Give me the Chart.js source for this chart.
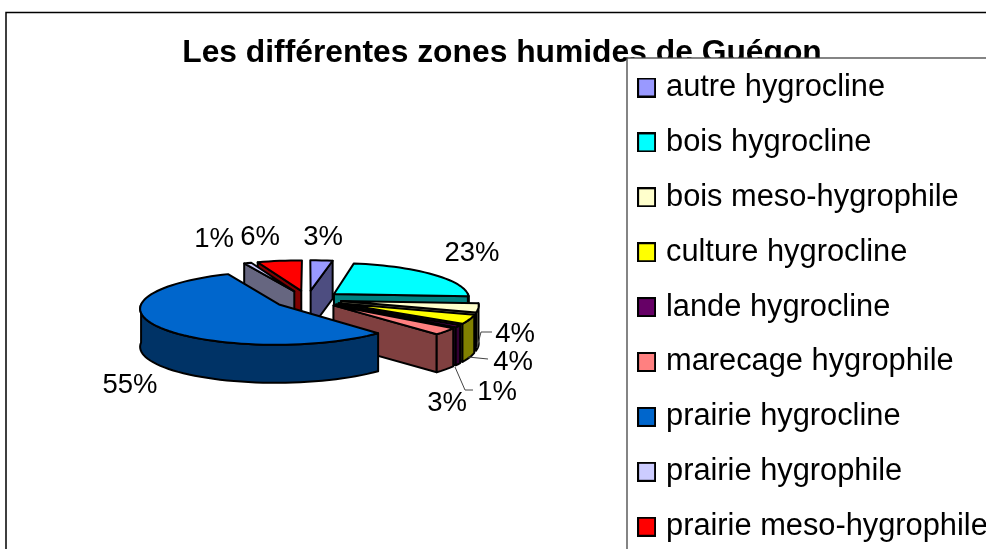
<!DOCTYPE html>
<html><head><meta charset="utf-8">
<style>html,body{margin:0;padding:0;background:#fff;overflow:hidden}canvas{display:block}</style>
<script src="https://cdn.jsdelivr.net/npm/chart.js@4"></script>
</head><body><canvas id="c" width="986" height="549"></canvas>
<script>
const titleText = 'Les différentes zones humides de Guégon';
const categories = ['autre hygrocline','bois hygrocline','bois meso-hygrophile','culture hygrocline','lande hygrocline','marecage hygrophile','prairie hygrocline','prairie hygrophile','prairie meso-hygrophile'];
const values = [3,23,4,4,1,3,55,1,6];
const topColors = ['#9999FF','#00FFFF','#FFFFCC','#FFFF00','#660066','#FF8080','#0066CC','#CCCCFF','#FF0000'];
const sideColors = ['#4D4D80','#008080','#808066','#808000','#330033','#804040','#003366','#666680','#800000'];

const FONT = '"Liberation Sans", Arial, sans-serif';
const SQUASH = 0.263, DEPTH = 38, PERSPECTIVE = 0.1;
const labelSpots = [[323,237],[472,253],[515,334],[513,362],[497,392],[447,403],[130,385],[214,239],[260,237]];
const leaders = [
  [[492,332],[481,332],[477,348]],
  [[488,359],[468,357]],
  [[473,390],[465,390],[455,367]]
];

function swatch(color){
  const s = document.createElement('canvas'); s.width = 19; s.height = 20;
  const g = s.getContext('2d');
  g.fillStyle = color; g.fillRect(0,0,19,20);
  g.strokeStyle = '#000'; g.lineWidth = 2; g.strokeRect(1,1,17,18);
  return s;
}

const pie3d = {
  id:'pie3d',
  beforeLayout(chart){ chart.titleBlock._layers = () => []; },
  afterLayout(chart){
    const t = chart.titleBlock; t.left = 18; t.right = 986;
    const l = chart.legend;
    l.update(370, 900, {left:0,top:0,right:0,bottom:0});
    l.left = 618.5; l.right = 991; l.top = 48; l.bottom = 900;
  },
  beforeDraw(chart){
    const ctx = chart.ctx;
    ctx.save();
    ctx.fillStyle = '#fff'; ctx.fillRect(0,0,986,549);
    ctx.strokeStyle = '#000'; ctx.lineWidth = 1.5;
    ctx.strokeRect(6,12.5,1100,1100);
    chart.titleBlock.draw(chart.chartArea);
    ctx.fillStyle = '#fff'; ctx.strokeStyle = '#444'; ctx.lineWidth = 1.3;
    ctx.fillRect(627,58,500,600); ctx.strokeRect(627,58,500,600);
    ctx.restore();
  },
  beforeDatasetsDraw(chart){
    const ctx = chart.ctx, meta = chart.getDatasetMeta(0);
    const slices = meta.data.map((arc,i) => {
      const R = arc.outerRadius, E = arc.options.offset / 4;
      const a0 = arc.startAngle, a1 = arc.endAngle, mid = (a0+a1)/2;
      const ox = Math.cos(mid)*E, oy = Math.sin(mid)*E;
      const P = (u,v,d) => {
        const s = 1 + PERSPECTIVE * v / R;
        return [arc.x + u*s, arc.y + v*SQUASH*s + (d||0)];
      };
      const rim = (a,d) => P(ox+R*Math.cos(a), oy+R*Math.sin(a), d);
      let front = oy;
      for (let a=a0; a<=a1; a+=0.02) front = Math.max(front, oy+R*Math.sin(a));
      front = Math.max(front, oy+R*Math.sin(a1));
      return {i,a0,a1,ox,oy,P,rim,front};
    }).sort((p,q) => p.front - q.front);

    const poly = (pts,fill) => {
      ctx.beginPath();
      pts.forEach((p,k) => k ? ctx.lineTo(p[0],p[1]) : ctx.moveTo(p[0],p[1]));
      ctx.closePath(); ctx.fillStyle = fill; ctx.fill(); ctx.stroke();
    };
    const sweep = (rim,lo,hi,d) => {
      const out = [], n = Math.max(2, Math.ceil((hi-lo)/0.05));
      for (let k=0;k<=n;k++) out.push(rim(lo+(hi-lo)*k/n,d));
      return out;
    };
    ctx.save();
    ctx.strokeStyle = '#000'; ctx.lineWidth = 2; ctx.lineJoin = 'round';
    slices.forEach(s => {
      const apex = s.P(s.ox,s.oy,0), apexD = s.P(s.ox,s.oy,DEPTH);
      if (-Math.cos(s.a0) > 0) poly([apex, s.rim(s.a0), s.rim(s.a0,DEPTH), apexD], sideColors[s.i]);
      if (Math.cos(s.a1) > 0) poly([apex, s.rim(s.a1), s.rim(s.a1,DEPTH), apexD], sideColors[s.i]);
      const lo = Math.max(s.a0,0), hi = Math.min(s.a1,Math.PI);
      if (lo < hi) poly(sweep(s.rim,lo,hi,0).concat(sweep(s.rim,lo,hi,DEPTH).reverse()), sideColors[s.i]);
      poly([apex].concat(sweep(s.rim,s.a0,s.a1,0)), topColors[s.i]);
    });
    ctx.restore();
    return false;
  },
  afterDraw(chart){
    const ctx = chart.ctx, total = values.reduce((a,b)=>a+b,0);
    ctx.save();
    ctx.strokeStyle = '#444'; ctx.lineWidth = 1;
    leaders.forEach(l => {
      ctx.beginPath();
      l.forEach((p,k) => k ? ctx.lineTo(p[0],p[1]) : ctx.moveTo(p[0],p[1]));
      ctx.stroke();
    });
    ctx.fillStyle = '#000'; ctx.font = '27.5px '+FONT;
    ctx.textAlign = 'center'; ctx.textBaseline = 'middle';
    values.forEach((v,i) => ctx.fillText(Math.round(v/total*100)+'%', labelSpots[i][0], labelSpots[i][1]));
    ctx.restore();
  }
};

new Chart(document.getElementById('c'), {
  type:'pie',
  plugins:[pie3d],
  data:{ labels:categories, datasets:[{ data:values, backgroundColor:topColors, borderColor:'#000', borderWidth:2, radius:136, offset:136, hoverOffset:0, clip:false }] },
  options:{
    responsive:false, animation:false, events:[],
    layout:{ padding:{left:0,top:0,right:371,bottom:22.2} },
    plugins:{
      tooltip:{enabled:false},
      title:{ display:true, text:titleText, color:'#000', font:{family:FONT,size:31.8,weight:'bold'}, padding:{top:33.8,bottom:0} },
      legend:{ display:true, position:'chartArea', align:'start',
        labels:{ color:'#000', font:{family:FONT,size:30.8}, padding:24.1, usePointStyle:true, pointStyleWidth:8, boxWidth:8, boxHeight:20,
          generateLabels:() => categories.map((t,i) => ({text:t, fillStyle:topColors[i], strokeStyle:'#000', lineWidth:2, pointStyle:swatch(topColors[i]), hidden:false, index:i})) } }
    }
  }
});
</script></body></html>
